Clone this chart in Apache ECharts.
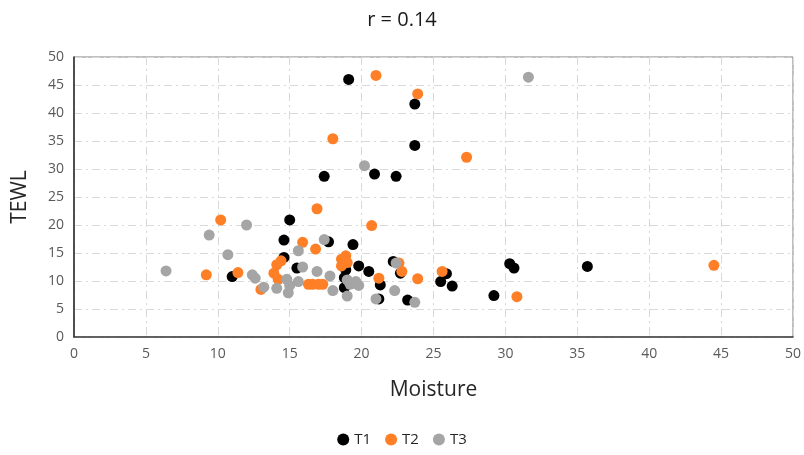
<!DOCTYPE html>
<html><head><meta charset="utf-8">
<script src="https://cdn.jsdelivr.net/npm/echarts@6/dist/echarts.min.js"></script>
<style>html,body{margin:0;padding:0;background:#fff}#c{width:804px;height:455px}</style>
</head><body><div id="c"></div>
<script>
var titleText = "r = 0.14";
var seriesNames = ["T1", "T2", "T3"];
var t1 = [[19.1,46.0],[23.7,41.6],[23.7,34.2],[17.4,28.7],[20.9,29.1],[22.4,28.7],[15.0,20.9],[14.6,17.3],[17.7,17.0],[19.4,16.5],[14.6,14.2],[15.5,12.3],[19.8,12.7],[20.5,11.7],[22.2,13.5],[22.7,11.4],[11.0,10.8],[18.8,10.6],[18.8,8.8],[18.9,12.0],[21.3,9.3],[21.2,6.8],[23.2,6.6],[25.5,9.9],[25.9,11.3],[26.3,9.1],[29.2,7.4],[30.3,13.1],[30.6,12.3],[35.7,12.6]];
var t2 = [[21.0,46.7],[23.9,43.4],[18.0,35.4],[27.3,32.1],[16.9,22.9],[10.2,20.9],[20.7,19.9],[15.9,16.9],[16.8,15.7],[18.9,14.5],[18.6,13.9],[19.0,13.3],[18.6,12.7],[14.4,13.6],[14.1,12.9],[22.6,13.2],[22.8,11.7],[25.6,11.7],[44.5,12.8],[11.4,11.5],[9.2,11.1],[13.9,11.4],[14.2,10.3],[21.2,10.5],[23.9,10.4],[16.3,9.4],[16.6,9.4],[17.0,9.4],[17.3,9.4],[13.0,8.5],[30.8,7.2]];
var t3 = [[31.6,46.4],[20.2,30.6],[12.0,20.0],[9.4,18.2],[17.4,17.4],[15.6,15.4],[10.7,14.7],[22.4,13.2],[15.9,12.5],[6.4,11.8],[16.9,11.7],[12.4,11.1],[12.6,10.5],[17.8,10.9],[14.8,10.3],[15.6,9.9],[15.0,9.2],[13.2,8.9],[14.1,8.7],[14.9,7.9],[18.0,8.3],[19.0,10.2],[19.6,9.9],[19.8,9.2],[19.2,9.4],[19.0,7.3],[21.0,6.8],[22.3,8.3],[23.7,6.2]];
var colors = ["#000000", "#FF7F27", "#A5A5A5"];
var xName = "Moisture", yName = "TEWL";

var chart = echarts.init(document.getElementById('c'), null, {renderer:'canvas'});
var font = "'Open Sans', 'Liberation Sans', sans-serif";
var split = {show:true, lineStyle:{color:'#d9d9d9', width:1, type:[8,4,2,4]}};
chart.setOption({
  animation:false,
  color: colors,
  title:{text:titleText, left:'center', top:5, textStyle:{fontFamily:font, fontSize:20, fontWeight:'normal', color:'#1a1a1a'}},
  legend:{bottom:3, left:'center', itemWidth:12, itemHeight:12, itemGap:14, icon:'circle',
    textStyle:{fontFamily:font, fontSize:15, color:'#262626'}, data:seriesNames},
  grid:{left:74, right:10, top:57, bottom:118, show:true, borderColor:'#808080', borderWidth:1},
  xAxis:{type:'value', min:0, max:50, interval:5, name:xName, nameLocation:'middle', nameGap:43,
    nameTextStyle:{fontFamily:font, fontSize:21, color:'#262626'},
    axisLine:{show:true, onZero:false, lineStyle:{color:'#404040', width:1.5}},
    axisTick:{show:false}, axisLabel:{fontFamily:font, fontSize:14, color:'#595959', margin:10},
    splitLine:split},
  yAxis:{type:'value', min:0, max:50, interval:5, name:yName, nameLocation:'middle', nameGap:43,
    nameTextStyle:{fontFamily:font, fontSize:21, color:'#262626'},
    axisLine:{show:true, onZero:false, lineStyle:{color:'#262626', width:1.5}},
    axisTick:{show:false}, axisLabel:{fontFamily:font, fontSize:14, color:'#595959', margin:10},
    splitLine:split},
  series:[
    {name:seriesNames[0], type:'scatter', data:t1, symbolSize:11, itemStyle:{color:colors[0], opacity:1}},
    {name:seriesNames[1], type:'scatter', data:t2, symbolSize:11, itemStyle:{color:colors[1], opacity:1}},
    {name:seriesNames[2], type:'scatter', data:t3, symbolSize:11, itemStyle:{color:colors[2], opacity:1}}
  ]
});
</script></body></html>
